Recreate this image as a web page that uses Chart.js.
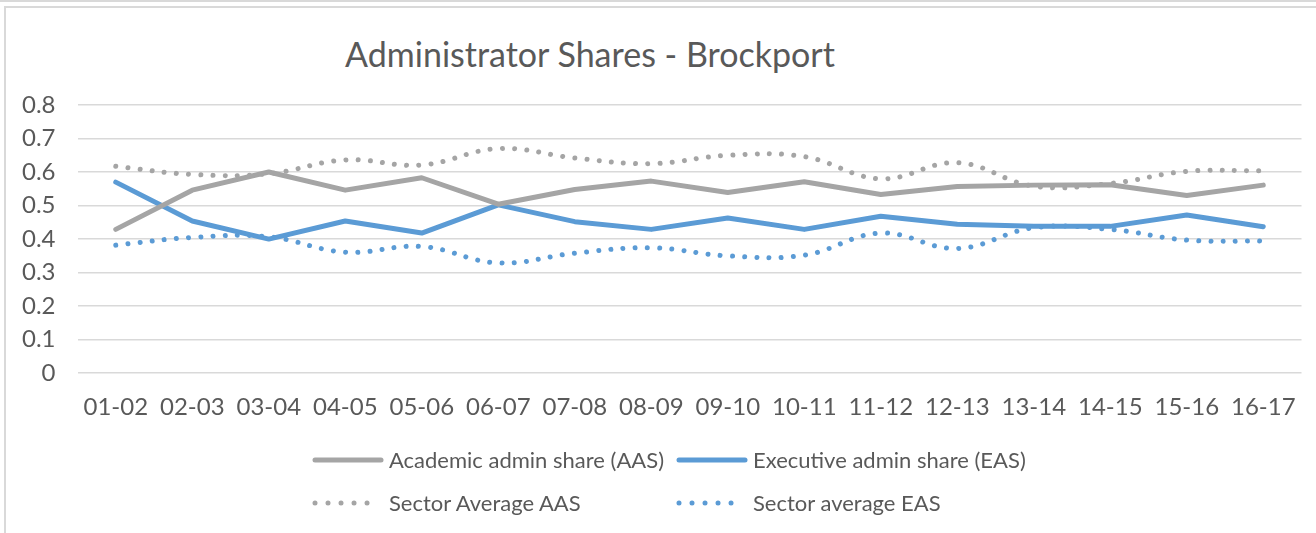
<!DOCTYPE html>
<html>
<head>
<meta charset="utf-8">
<title>Administrator Shares - Brockport</title>
<script src="https://cdn.jsdelivr.net/npm/chart.js@4/dist/chart.umd.min.js"></script>
<style>
  body { margin: 0; background: #fff; font-family: Lato, sans-serif; color: #595959; }
  #wrap { position: relative; width: 1316px; height: 533px; overflow: hidden; }
  #topline { position: absolute; left: 0; top: 0; width: 1316px; height: 2px; background: #d9d9d9; }
  #frame { position: absolute; left: 4px; top: 6px; width: 1330px; height: 560px; border: 2px solid #d9d9d9; box-sizing: border-box; }
  #title { position: absolute; left: 190px; top: 34px; width: 800px; text-align: center; font-size: 34px; line-height: 40px; }
  #chart { position: absolute; left: 0; top: 0; }
  #legend { position: absolute; left: 312px; top: 438px; display: grid; grid-template-columns: 364px auto; }
  .item { display: flex; align-items: center; height: 43px; font-size: 22px; white-space: nowrap; }
  .item svg { margin-right: 5px; }
</style>
</head>
<body>
<div id="wrap">
  <div id="topline"></div>
  <div id="frame"></div>
  <div id="title">Administrator Shares - Brockport</div>
  <canvas id="chart" width="1316" height="533"></canvas>
  <div id="legend"></div>
</div>
<script>
// Data
const years = ['01-02', '02-03', '03-04', '04-05', '05-06', '06-07', '07-08', '08-09',
  '09-10', '10-11', '11-12', '12-13', '13-14', '14-15', '15-16', '16-17'];
const aas = [0.429, 0.546, 0.600, 0.546, 0.583, 0.504, 0.548, 0.573,
  0.539, 0.571, 0.533, 0.557, 0.561, 0.562, 0.530, 0.561];
const eas = [0.570, 0.454, 0.400, 0.454, 0.418, 0.502, 0.452, 0.429,
  0.463, 0.429, 0.468, 0.444, 0.438, 0.438, 0.472, 0.437];
const sectorAas = [0.617, 0.593, 0.595, 0.636, 0.621, 0.670, 0.642, 0.625,
  0.650, 0.646, 0.580, 0.628, 0.558, 0.566, 0.602, 0.604];
const sectorEas = [0.382, 0.405, 0.407, 0.361, 0.378, 0.329, 0.358, 0.374,
  0.350, 0.352, 0.418, 0.372, 0.434, 0.429, 0.397, 0.394];
const yTicks = [0, 0.1, 0.2, 0.3, 0.4, 0.5, 0.6, 0.7, 0.8];

const grey = '#a5a5a5';
const blue = '#5b9bd5';
const textColor = '#595959';
const font = { family: 'Lato', size: 24 };

const solid = (label, data, color) => ({
  label, data, borderColor: color, backgroundColor: color,
  borderWidth: 5, borderCapStyle: 'round', borderJoinStyle: 'round',
  pointRadius: 0, tension: 0, fill: false
});
const dotted = (label, data, color) => ({
  label, data, borderColor: color, backgroundColor: color,
  borderWidth: 5, borderCapStyle: 'round', borderDash: [0.01, 12.2],
  pointRadius: 0, tension: 0.4, fill: false
});

const chart = new Chart(document.getElementById('chart').getContext('2d'), {
  type: 'line',
  data: {
    labels: years,
    datasets: [
      solid('Academic admin share (AAS)', aas, grey),
      solid('Executive admin share (EAS)', eas, blue),
      dotted('Sector Average AAS', sectorAas, grey),
      dotted('Sector average EAS', sectorEas, blue)
    ]
  },
  options: {
    responsive: false,
    animation: false,
    layout: { padding: { left: 0, top: 105, right: 14, bottom: 91 } },
    plugins: {
      legend: { display: false },
      title: { display: false },
      tooltip: { enabled: false }
    },
    scales: {
      x: {
        offset: true,
        grid: { display: false, drawTicks: false },
        border: { display: false },
        ticks: { color: textColor, font, padding: 20, maxRotation: 0, autoSkip: false }
      },
      y: {
        min: 0,
        max: 0.8,
        afterBuildTicks: axis => { axis.ticks = yTicks.map(v => ({ value: v })); },
        grid: { color: '#d9d9d9', lineWidth: 1.5, drawTicks: false },
        border: { display: false },
        ticks: { color: textColor, font, padding: 22, callback: v => String(Math.round(v * 10) / 10) }
      }
    }
  }
});

// Legend in two columns, built from the datasets
const legend = document.getElementById('legend');
chart.data.datasets.forEach(ds => {
  const item = document.createElement('div');
  item.className = 'item';
  const dash = ds.borderDash ? ' stroke-dasharray="0.01 13"' : '';
  const x2 = ds.borderDash ? 68 : 69;
  item.innerHTML = '<svg width="72" height="10"><line x1="3" y1="5" x2="' + x2 + '" y2="5" stroke="' +
    ds.borderColor + '" stroke-width="' + ds.borderWidth + '" stroke-linecap="round"' + dash + '/></svg>' +
    '<span>' + ds.label + '</span>';
  legend.appendChild(item);
});
</script>
</body>
</html>
